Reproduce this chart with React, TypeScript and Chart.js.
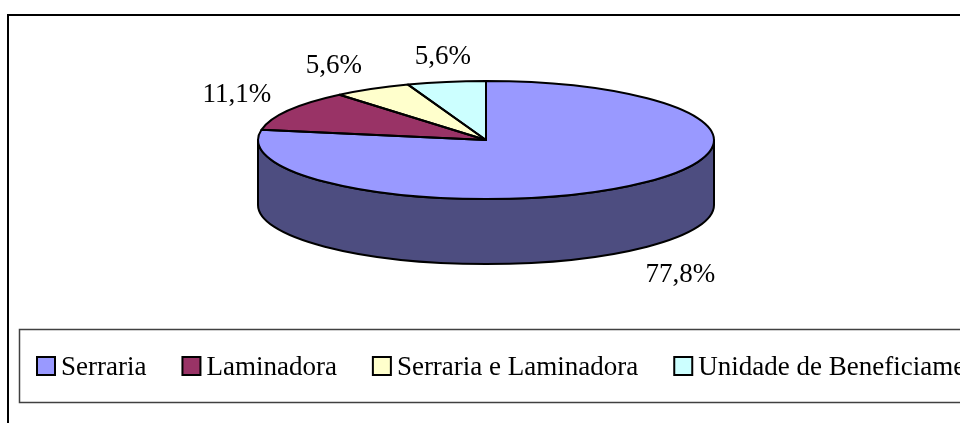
import React, { useEffect, useRef } from "react";
import { Chart, registerables } from "chart.js";

Chart.register(...registerables);

// ---- data ----
const categories = ["Serraria", "Laminadora", "Serraria e Laminadora", "Unidade de Beneficiamento"];
const counts = [14, 2, 1, 1];
const topColors = ["#9999FF", "#993366", "#FFFFCC", "#CCFFFF"];
const sideColors = ["#4D4D80", "#4D1A33", "#808066", "#668080"];

// ---- styling / layout ----
const FONT = "'Liberation Serif', 'Times New Roman', serif";
const CANVAS_W = 1000;
const CANVAS_H = 460;
const TILT = 0.259; // ry / rx of the top face

function geom(chart: any) {
  const ca = chart.chartArea;
  const rx = (ca.right - ca.left) / 2;
  const ry = rx * TILT;
  const cx = (ca.left + ca.right) / 2;
  const cy = ca.top + ry;
  const depth = ca.bottom - ca.top - 2 * ry;
  return { rx, ry, cx, cy, depth };
}

const pie3d = {
  id: "pie3d",
  beforeDatasetsDraw(chart: any) {
    const ctx = chart.ctx;
    const meta = chart.getDatasetMeta(0);
    const { rx, ry, cx, cy, depth } = geom(chart);
    // side walls (front half only)
    meta.data.forEach((el: any, i: number) => {
      const { startAngle, endAngle } = el.getProps(["startAngle", "endAngle"], true);
      const a = Math.max(startAngle, 0);
      const b = Math.min(endAngle, Math.PI);
      if (b > a) {
        ctx.save();
        ctx.beginPath();
        ctx.ellipse(cx, cy, rx, ry, 0, a, b, false);
        ctx.ellipse(cx, cy + depth, rx, ry, 0, b, a, true);
        ctx.closePath();
        ctx.fillStyle = sideColors[i];
        ctx.fill();
        ctx.lineWidth = 2;
        ctx.strokeStyle = "#000";
        ctx.lineJoin = "round";
        ctx.stroke();
        ctx.restore();
      }
    });
    // project the library's circular arcs onto the tilted top face
    const el0 = meta.data[0];
    const R = el0.outerRadius;
    ctx.save();
    ctx.translate(cx, cy);
    ctx.scale(rx / R, ry / R);
    ctx.translate(-el0.x, -el0.y);
  },
  afterDatasetsDraw(chart: any) {
    const ctx = chart.ctx;
    ctx.restore();
    const meta = chart.getDatasetMeta(0);
    const { rx, ry, cx, cy, depth } = geom(chart);
    const data = chart.data.datasets[0].data as number[];
    const total = data.reduce((s, v) => s + v, 0);
    // outlines of top face slices
    meta.data.forEach((el: any) => {
      const { startAngle, endAngle } = el.getProps(["startAngle", "endAngle"], true);
      ctx.save();
      ctx.beginPath();
      ctx.moveTo(cx, cy);
      ctx.ellipse(cx, cy, rx, ry, 0, startAngle, endAngle, false);
      ctx.closePath();
      ctx.lineWidth = 2;
      ctx.strokeStyle = "#000";
      ctx.lineJoin = "round";
      ctx.stroke();
      ctx.restore();
    });
    // percentage labels
    ctx.save();
    ctx.font = `27px ${FONT}`;
    ctx.fillStyle = "#000";
    ctx.textBaseline = "alphabetic";
    const ascent = ctx.measureText("0").actualBoundingBoxAscent;
    meta.data.forEach((el: any, i: number) => {
      const { startAngle, endAngle } = el.getProps(["startAngle", "endAngle"], true);
      const m = (startAngle + endAngle) / 2;
      const c = Math.cos(m);
      const s = Math.sin(m);
      const ax = cx + c * (rx + 20);
      let ay = cy + s * (ry + 18) + (s > 0 ? depth : 0);
      ctx.textAlign = c < -0.3 ? "right" : c > 0.3 ? "left" : "center";
      if (s > 0) ay += ascent;
      const pct = ((data[i] / total) * 100).toFixed(1).replace(".", ",") + "%";
      ctx.fillText(pct, ax, ay);
    });
    ctx.restore();
  },
  afterDraw(chart: any) {
    const ctx = chart.ctx;
    ctx.save();
    // outer chart frame
    ctx.lineWidth = 2;
    ctx.strokeStyle = "#000";
    ctx.strokeRect(8, 15, 1100, 500);
    // legend frame
    ctx.lineWidth = 1.5;
    ctx.strokeStyle = "#404040";
    ctx.strokeRect(19.5, 329.5, 1100, 73);
    // legend items
    ctx.font = `27px ${FONT}`;
    ctx.textAlign = "left";
    ctx.textBaseline = "alphabetic";
    let x = 37;
    const labels = chart.data.labels as string[];
    const colors = chart.data.datasets[0].backgroundColor as string[];
    labels.forEach((lab, i) => {
      ctx.fillStyle = colors[i];
      ctx.fillRect(x, 357, 18, 18);
      ctx.lineWidth = 2;
      ctx.strokeStyle = "#000";
      ctx.strokeRect(x, 357, 18, 18);
      ctx.fillStyle = "#000";
      ctx.fillText(lab, x + 24, 375);
      x += 24 + ctx.measureText(lab).width + 36;
    });
    ctx.restore();
  },
};

export default function App() {
  const ref = useRef<HTMLCanvasElement | null>(null);
  useEffect(() => {
    if (!ref.current) return;
    const chart = new Chart(ref.current, {
      type: "pie",
      data: {
        labels: categories,
        datasets: [
          {
            data: counts,
            backgroundColor: topColors,
            borderWidth: 0,
          },
        ],
      },
      options: {
        responsive: false,
        animation: false,
        events: [],
        layout: { padding: { left: 258, right: CANVAS_W - 714, top: 81, bottom: CANVAS_H - 264 } },
        plugins: {
          legend: { display: false },
          tooltip: { enabled: false },
          title: { display: false },
        },
      },
      plugins: [pie3d],
    });
    return () => chart.destroy();
  }, []);
  return (
    <div
      style={{
        position: "fixed",
        left: 0,
        top: 0,
        width: 960,
        height: 423,
        overflow: "hidden",
        background: "#fff",
      }}
    >
      <canvas ref={ref} width={CANVAS_W} height={CANVAS_H} style={{ display: "block" }} />
    </div>
  );
}
